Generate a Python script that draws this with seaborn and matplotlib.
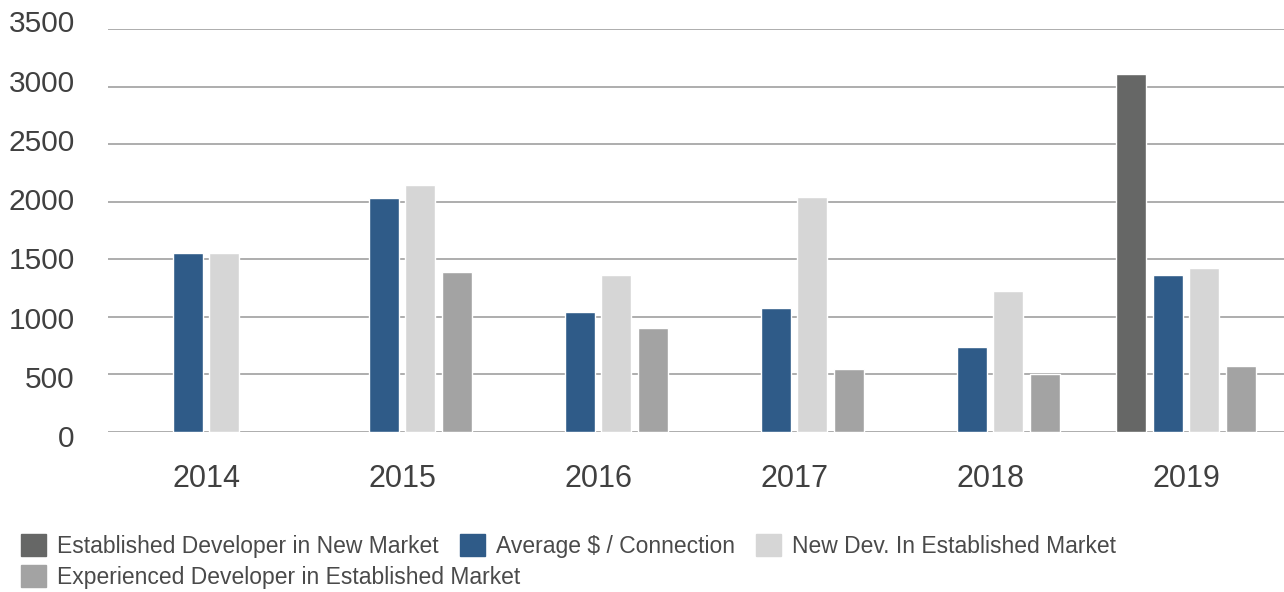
import numpy as np
import pandas as pd
import matplotlib
matplotlib.use("Agg")
import matplotlib.pyplot as plt
import matplotlib.patches as mpatches
import seaborn as sns

# data
years = ["2014", "2015", "2016", "2017", "2018", "2019"]
series = ["Established Developer in New Market",
          "Average $ / Connection",
          "New Dev. In Established Market",
          "Experienced Developer in Established Market"]
est_new_market = [np.nan, np.nan, np.nan, np.nan, np.nan, 3110]
avg_connection = [1555, 2030, 1040, 1078, 738, 1360]
new_dev_est = [1555, 2145, 1362, 2040, 1225, 1422]
exp_dev_est = [np.nan, 1390, 903, 548, 503, 572]
y_ticks = [0, 500, 1000, 1500, 2000, 2500, 3000, 3500]

colors = ["#666766", "#2f5b88", "#d6d6d6", "#a3a3a3"]

df = pd.DataFrame({
    "year": years * 4,
    "series": np.repeat(series, len(years)),
    "value": est_new_market + avg_connection + new_dev_est + exp_dev_est,
})

sns.set_style("white")
plt.rcParams["font.family"] = ["Liberation Sans", "DejaVu Sans"]

W, H = 1284, 592
fig = plt.figure(figsize=(W / 100, H / 100), dpi=100)
ax = fig.add_axes([108 / W, 1 - 432 / H, 1 - 108 / W, (432 - 29) / H])

sns.barplot(data=df, x="year", y="value", hue="series", hue_order=series,
            order=years, palette=colors, width=0.75, gap=0.18,
            saturation=1, legend=False, ax=ax)

ax.set_ylim(0, 3500)
ax.set_xlim(-0.5, 5.5)
ax.set_yticks(y_ticks)
ax.yaxis.grid(True, color="#a0a0a0", linewidth=1.2)
ax.set_axisbelow(True)
for s in ax.spines.values():
    s.set_visible(False)
ax.set_xlabel("")
ax.set_ylabel("")
ax.tick_params(axis="y", length=0, labelleft=False)
ax.tick_params(axis="x", length=0, pad=23, labelsize=22, labelcolor="#404040")

# in the original the value labels are spaced a little wider than the gridlines,
# so put them on a slightly taller, invisible axis
lab = fig.add_axes([108 / W, 1 - 436 / H, 1 - 108 / W, (436 - 21.5) / H])
lab.set_ylim(0, 3500)
lab.set_yticks(y_ticks)
lab.set_xticks([])
lab.patch.set_visible(False)
for s in lab.spines.values():
    s.set_visible(False)
lab.tick_params(axis="y", length=0, pad=24, labelsize=21.5, labelcolor="#404040")

# legend laid out like the original: three on the first row, one below
handles = [mpatches.Patch(color=c, label=l) for c, l in zip(colors, series)]
leg_kw = dict(frameon=False, fontsize=16.5, handlelength=1.1, handleheight=1.1,
              handletextpad=0.48, columnspacing=0.92, borderpad=0,
              borderaxespad=0, loc="center left")
leg1 = fig.legend(handles=handles[:3], ncol=3,
                  bbox_to_anchor=(21 / W, 1 - 546 / H), **leg_kw)
leg2 = fig.legend(handles=handles[3:], ncol=1,
                  bbox_to_anchor=(21 / W, 1 - 577 / H), **leg_kw)
for leg in (leg1, leg2):
    for t in leg.get_texts():
        t.set_color("#4a4a4a")

fig.savefig("out.png", dpi=100)
